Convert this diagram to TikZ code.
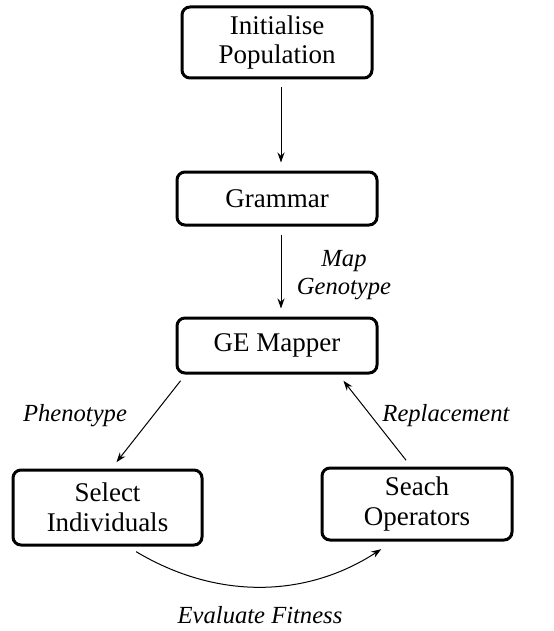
\documentclass[tikz,border=0pt]{standalone}
\usepackage{fontspec}
\setmainfont{Liberation Serif}
\usetikzlibrary{arrows.meta}

\tikzset{
	stepbox/.style={draw, line width=1.5pt, rounded corners=4pt, align=center, inner sep=0pt, font=\fontsize{13.5}{14.8}\selectfont},
	arr/.style={-{Stealth[length=5pt,width=3.5pt]}, line width=0.5pt, shorten <=4pt, shorten >=4pt},
	lbl/.style={font=\fontsize{12.3}{14}\selectfont\itshape, align=center}
}

\begin{document}
\begin{tikzpicture}[x=0.5pt, y=-0.5pt]
			\useasboundingbox (0,0) rectangle (553,631);
			
			%boxes
			\node[stepbox, minimum width=95pt, minimum height=35.5pt] (init) at (277, 42.5){Initialise\\Population};
			\node[stepbox, minimum width=100pt, minimum height=26.5pt] (gram) at (277, 198.5){Grammar};
			\node[stepbox, minimum width=100pt, minimum height=27.5pt] (gem) at (277, 345.5){GE Mapper};
			\node[stepbox, minimum width=94.5pt, minimum height=37.5pt] (sel) at (107.5, 507.5){Select\\Individuals};
			\node[stepbox, minimum width=95pt, minimum height=36pt] (ops) at (417, 504){Seach\\Operators};
			
			%arrows
			\draw[arr] ([xshift=2pt]init.south) -- ([xshift=2pt]gram.north);
			\draw[arr] ([xshift=2pt]gram.south) -- ([xshift=2pt]gem.north);
			\draw[arr] ([xshift=5pt]gem.south west) -- ([xshift=2pt]sel.north);
			\draw[arr] ([xshift=-3pt]ops.north) -- ([xshift=-20pt]gem.south east);
			\draw[arr, shorten <=5pt, shorten >=7pt] ([xshift=10pt]sel.south) to[bend right=32] ([xshift=-12pt]ops.south);
			
			%labels
			\node[lbl] (map) at (344, 275){Map\\Genotype};
			\node[lbl] (phen) at (75, 416){Phenotype};
			\node[lbl] (repl) at (446, 416){Replacement};
			\node[lbl] (eval) at (260, 615){Evaluate Fitness};
\end{tikzpicture}
\end{document}
